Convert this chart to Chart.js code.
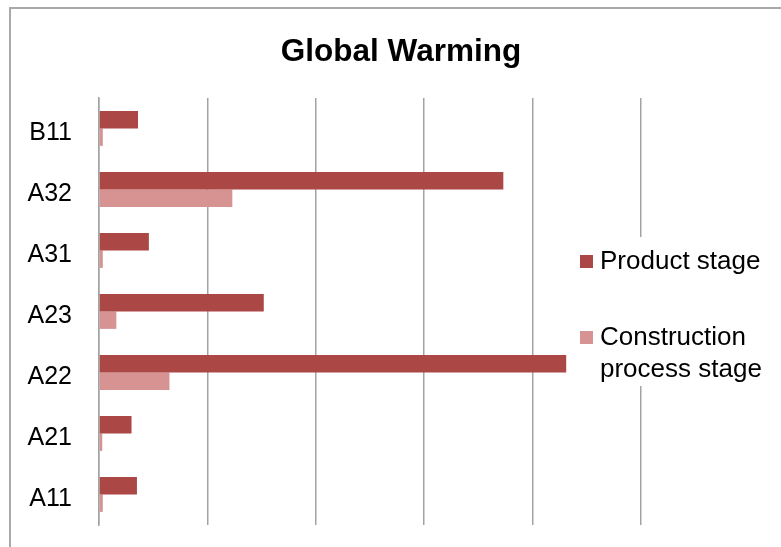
<!DOCTYPE html>
<html>
<head>
<meta charset="utf-8">
<script src="https://cdn.jsdelivr.net/npm/chart.js@4"></script>
<style>
  html, body { margin: 0; padding: 0; background: #fff; }
  #wrap { position: relative; width: 781px; height: 547px; }
</style>
</head>
<body>
<div id="wrap"><canvas id="gwChart" width="781" height="547"></canvas></div>
<script>
const categories = ['B11', 'A32', 'A31', 'A23', 'A22', 'A21', 'A11'];
const productStage = [0.36, 3.73, 0.46, 1.52, 4.31, 0.30, 0.35];
const constructionStage = [0.035, 1.23, 0.035, 0.16, 0.65, 0.03, 0.035];
const seriesNames = ['Product stage', ['Construction', 'process stage']];
const seriesColors = ['#ab4745', '#d69391'];
const chartTitle = 'Global Warming';

const FONT = 'Liberation Sans, Arial, sans-serif';

// outer frame, title across the whole frame, and a legend on a white box over the last gridline
const framePlugin = {
  id: 'framePlugin',
  beforeDraw(chart) {
    const ctx = chart.ctx;
    ctx.save();
    ctx.fillStyle = '#fff';
    ctx.fillRect(0, 0, chart.width, chart.height);
    ctx.strokeStyle = '#a9a9a9';
    ctx.lineWidth = 2;
    ctx.strokeRect(10, 8, chart.width + 20, chart.height + 20);
    ctx.restore();
  },
  afterDraw(chart) {
    const ctx = chart.ctx;
    ctx.save();
    ctx.fillStyle = '#000';
    ctx.font = 'bold 31.5px ' + FONT;
    ctx.textAlign = 'center';
    ctx.textBaseline = 'alphabetic';
    ctx.fillText(chartTitle, 401, 61);

    ctx.textAlign = 'left';
    ctx.fillStyle = '#fff';
    ctx.fillRect(572, 237, 205, 149);
    ctx.font = '26px ' + FONT;
    ctx.textBaseline = 'middle';
    const rows = [262, 338];
    seriesNames.forEach((name, i) => {
      ctx.fillStyle = seriesColors[i];
      ctx.fillRect(580, rows[i] - 7, 13, 13);
      ctx.fillStyle = '#000';
      const lines = Array.isArray(name) ? name : [name];
      lines.forEach((ln, j) => ctx.fillText(ln, 600, rows[i] + j * 32));
    });
    ctx.restore();
  }
};

new Chart(document.getElementById('gwChart'), {
  type: 'bar',
  data: {
    labels: categories,
    datasets: [
      {
        label: 'Product stage',
        data: productStage,
        backgroundColor: seriesColors[0],
        categoryPercentage: 0.57,
        barPercentage: 1.0
      },
      {
        label: 'Construction process stage',
        data: constructionStage,
        backgroundColor: seriesColors[1],
        categoryPercentage: 0.57,
        barPercentage: 1.0
      }
    ]
  },
  options: {
    indexAxis: 'y',
    responsive: false,
    animation: false,
    layout: { padding: { left: 0, right: 140, top: 98, bottom: 22 } },
    plugins: {
      legend: { display: false },
      tooltip: { enabled: false },
      title: { display: false }
    },
    scales: {
      x: {
        min: 0,
        max: 5,
        ticks: { display: false, stepSize: 1 },
        grid: { color: '#a3a3a3', lineWidth: 1.5, drawTicks: false },
        border: { display: false },
        afterFit(scale) { scale.height = 0; }
      },
      y: {
        grid: { display: false, drawTicks: false },
        border: { color: '#a3a3a3', width: 1.5 },
        ticks: { color: '#000', padding: 27, labelOffset: 5, font: { family: FONT, size: 25 } },
        afterFit(scale) {
          scale.width = 99;
          scale.paddingTop = 0;
          scale.paddingBottom = 0;
        }
      }
    }
  },
  plugins: [framePlugin]
});
</script>
</body>
</html>
